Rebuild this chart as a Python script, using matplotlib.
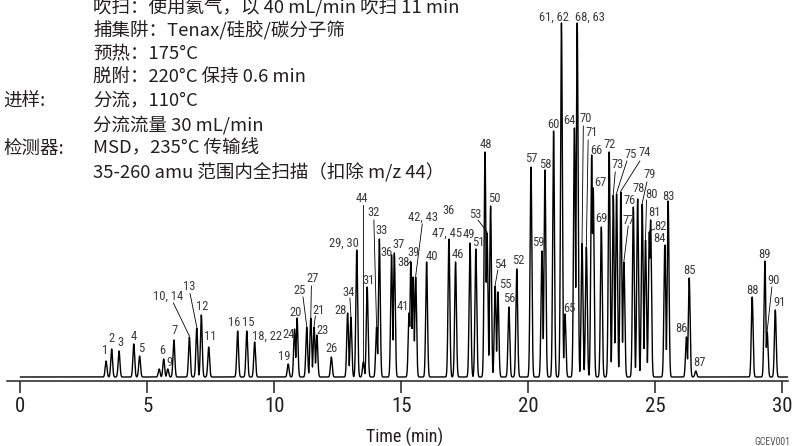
import numpy as np
import matplotlib.pyplot as plt
from matplotlib import font_manager


def pick_font(names):
    for name in names:
        try:
            font_manager.findfont(name, fallback_to_default=False)
            return name
        except ValueError:
            pass
    return 'DejaVu Sans'


NARROW = pick_font(['Liberation Sans Narrow', 'Roboto Condensed', 'Liberation Sans'])
CJK = ['Noto Sans CJK SC', 'DejaVu Sans']

# ---- data (time in min, abundance in arbitrary units) ----
peak_time = [3.37, 3.59, 3.88, 4.46, 4.69, 5.46, 5.64, 5.80, 6.04, 6.65,
             6.94, 7.12, 7.41, 8.55, 8.91, 9.22, 10.54, 10.79, 10.89, 11.27,
             11.43, 11.56, 11.67, 12.24, 12.88, 13.01, 13.24, 13.50, 13.65, 14.02,
             14.13, 14.61, 14.72, 15.30, 15.37, 15.46, 15.56, 15.99, 16.87, 17.13,
             17.70, 17.93, 18.29, 18.37, 18.51, 18.69, 18.80, 19.23, 19.54, 20.10,
             20.53, 20.65, 20.99, 21.30, 21.44, 21.81, 21.92, 22.11, 22.28, 22.49,
             22.55, 22.87, 23.18, 23.34, 23.47, 23.64, 23.76, 24.13, 24.30, 24.48,
             24.61, 24.76, 24.81, 25.37, 25.50, 26.22, 26.33, 26.59, 28.81, 29.31,
             29.40, 29.72]
peak_height = [16, 28, 26, 33, 21, 8, 18, 8, 37, 40,
               49, 62, 30, 46, 46, 35, 13, 48, 59, 50,
               59, 50, 42, 20, 64, 60, 127, 15, 90, 50,
               138, 122, 124, 64, 115, 100, 100, 115, 138, 115,
               134, 128, 225, 144, 171, 91, 85, 70, 108, 210,
               126, 207, 246, 354, 63, 249, 354, 134, 130, 222,
               189, 150, 225, 182, 183, 185, 115, 170, 178, 173,
               137, 145, 157, 132, 176, 40, 99, 6, 80, 116,
               45, 67]
peak_label = ['1', '2', '3', '4', '5', '', '6', '9', '7', '10, 14',
              '13', '12', '11', '16', '15', '18, 22', '19', '24', '20', '25',
              '27', '21', '23', '26', '28', '34', '29, 30', '44', '31', '32',
              '33', '36', '37', '41', '38', '39', '42, 43', '40', '47, 45', '46',
              '49', '51', '48', '53', '50', '54', '55', '56', '52', '57',
              '59', '58', '60', '61, 62', '65', '64', '68, 63', '70', '71', '66',
              '67', '69', '72', '73', '75', '74', '77', '76', '78', '79',
              '80', '82', '81', '84', '83', '86', '85', '87', '88', '89',
              '90', '91']
extra_labels = [('36', '47, 45')]

conditions = ['吹扫：使用氦气，以 40 mL/min 吹扫 11 min',
              '捕集阱：Tenax/硅胶/碳分子筛',
              '预热：175°C',
              '脱附：220°C 保持 0.6 min',
              '分流，110°C',
              '分流流量 30 mL/min',
              'MSD，235°C 传输线',
              '35-260 amu 范围内全扫描（扣除 m/z 44）']
side_labels = {4: '进样:', 6: '检测器:'}
x_ticks = [0, 5, 10, 15, 20, 25, 30]

# ---- label layout: (dx px, dy px, leader start offset px or None) ----
PX_PER_MIN = 25.4
label_layout = {
    '1': (-1, 11, None), '2': (0, 10, None), '3': (1, 8, None), '4': (0, 7, None),
    '5': (1.6, 7, None), '6': (-1.4, 8, None), '9': (1.3, 7, None), '7': (0.7, 10, None),
    '10, 14': (-21, 41, (5, -7)), '13': (-7.7, 41, (1, -6.6)), '12': (0.7, 9, None),
    '11': (2, 10, None), '16': (-3.4, 9, None), '15': (1.6, 9, None),
    '18, 22': (12, 6, None), '19': (-4, 7, None), '24': (-6, -6, None), '20': (-1, 6, None),
    '25': (-6.7, 37, (3, -7)), '27': (1.6, 39, (-1, -7)), '21': (4.3, 17, (-3, -6)),
    '23': (5.7, 5, None), '26': (0.4, 9, None), '28': (-7, 3, None),
    '34': (-2, 25, (1, -6)), '29, 30': (-12.7, 7, None), '44': (-1, 164, (1, -7)),
    '31': (1, 7, None), '32': (-2.7, 114, (0, -7)), '33': (2.4, 8, None),
    '36': (-4.7, 2, None), '37': (4.7, 8, None), '41': (-5.7, 7, None),
    '38': (-7.7, -1, (4, -2)), '39': (0, 25, None), '42, 43': (7.6, 60, (-1, -7)),
    '40': (5.6, 6, None), '47, 45': (-1.7, 6, None), '46': (2.6, 7, None),
    '49': (-1.7, 9, None), '51': (2.3, 7, None), '48': (0.7, 8, None),
    '53': (-12, 19, (3, -6)), '50': (3.3, 8, None), '54': (4.7, 22, (-2, -6)),
    '55': (7, 7, None), '56': (0, 8, None), '52': (1.6, 8, None), '57': (0, 8, None),
    '58': (0.3, 6, None), '59': (-3.7, 8, None), '60': (-0.4, 7, None),
    '61, 62': (-7.2, 6, None), '65': (4.3, 6, None), '64': (-4.5, 7, None),
    '68, 63': (12.7, 6, None), '70': (3.3, 125, (-2, -8)), '71': (5.8, 114, (-4, -7)),
    '66': (5, 5, None), '67': (6.7, 6, None), '69': (0.4, 9, None), '72': (0.7, 8, None),
    '73': (4, 30, (-2, -7)), '75': (14.3, 40, (-4, -7)), '74': (24, 39, (-5, -8)),
    '77': (4.3, 42, (0, -6)), '76': (-4, 6, None), '78': (1.3, 10, None),
    '79': (7.7, 29, (-3, -7)), '80': (6, 45, (-5, -5)), '81': (4.3, 7, None),
    '82': (11.4, 6, (-6, -3)), '84': (-5, 7, None), '83': (0.7, 5, None),
    '86': (-4.8, 8, None), '85': (0, 8, None), '87': (3.3, 9, None), '88': (0, 7, None),
    '89': (-0.3, 7, None), '90': (6.7, 52, (-2, -7)), '91': (4.7, 8, None),
}
extra_layout = {'36': (-0.5, 29)}

TEXT = '#231f20'

# ---- trace built from the peak table ----
t = np.arange(0, 30.22, 0.002)
sigma = 0.035
signal = np.zeros_like(t)
for pt, ph in zip(peak_time, peak_height):
    signal = np.maximum(signal, ph * np.exp(-0.5 * ((t - pt) / sigma) ** 2))

fig = plt.figure(figsize=(7.96, 4.46), dpi=100)
ax = fig.add_axes([6.7 / 796, 65 / 446, (788 - 6.7) / 796, 381 / 446])
ax.plot(t, signal, color='black', lw=1.0)
ax.set_xlim(-0.543, 30.22)
ax.set_ylim(-4, 377)

for s in ['left', 'right', 'top']:
    ax.spines[s].set_visible(False)
ax.spines['bottom'].set_linewidth(1.1)
ax.spines['bottom'].set_color(TEXT)
ax.set_yticks([])
ax.set_xticks(x_ticks)
ax.set_xticklabels([str(v) for v in x_ticks], fontfamily=NARROW, fontsize=15, color=TEXT)
ax.tick_params(axis='x', direction='out', length=8.6, width=1.1, pad=3, color=TEXT)

# peak labels
pos = {}
for pt, ph, lab in zip(peak_time, peak_height, peak_label):
    if not lab:
        continue
    pos[lab] = (pt, ph)
    dx, dy, lead = label_layout.get(lab, (0, 8, None))
    lx = pt + dx / PX_PER_MIN
    ly = ph + dy
    ax.text(lx, ly, lab, ha='center', va='center', fontsize=9,
            fontfamily=NARROW, color='#3a3a3a')
    if lead is not None:
        sx = lx + lead[0] / PX_PER_MIN
        sy = ly + lead[1]
        ax.plot([sx, pt], [sy, ph + 1], color='black', lw=0.6)

for lab, anchor in extra_labels:
    pt, ph = pos[anchor]
    dx, dy = extra_layout[lab]
    ax.text(pt + dx / PX_PER_MIN, ph + dy, lab, ha='center', va='center',
            fontsize=9, fontfamily=NARROW, color='#3a3a3a')

# method conditions block
line0 = 7.5
step = 23.5
for i, line in enumerate(conditions):
    y = 1 - (line0 + i * step) / 446
    fig.text(93 / 796, y, line, ha='left', va='center', fontsize=13.3,
             family=CJK, color=TEXT)
    if i in side_labels:
        fig.text(3 / 796, y, side_labels[i], ha='left', va='center',
                 fontsize=13.3, family=CJK, color=TEXT)

fig.text(405 / 796, 1 - 437 / 446, 'Time (min)', ha='center', va='center',
         fontsize=13, fontfamily=NARROW, color=TEXT)
fig.text(754 / 796, 1 - 442 / 446, 'GCEV001', ha='left', va='center',
         fontsize=7, fontfamily=NARROW, color='#555555')

fig.savefig('out.png', dpi=100)
